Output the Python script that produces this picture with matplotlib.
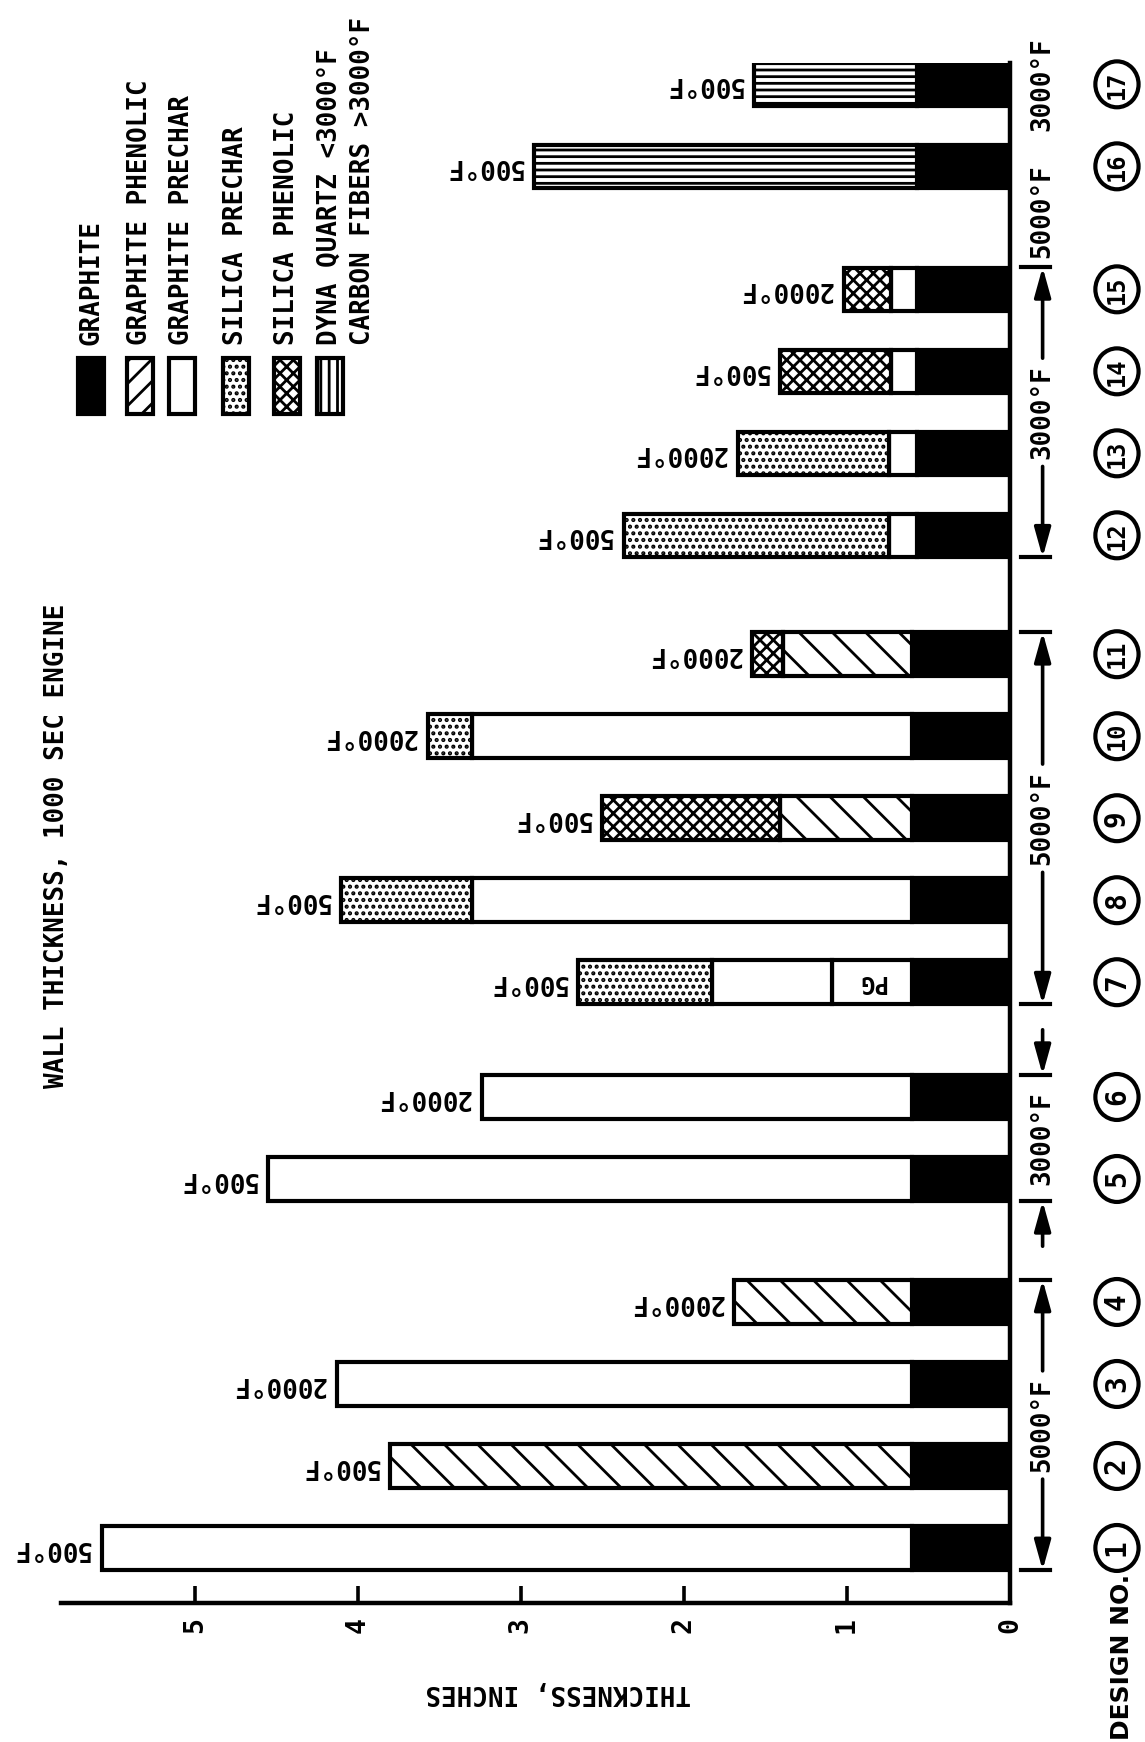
import matplotlib
matplotlib.use("Agg")
import matplotlib.pyplot as plt
from matplotlib.patches import Ellipse, Rectangle
import numpy as np

plt.rcParams['font.family'] = 'DejaVu Sans Mono'
plt.rcParams['font.weight'] = 'bold'
plt.rcParams['hatch.linewidth'] = 1.0

# ---- data (thickness of each layer, inches, from the inside out) ----
designs = list(range(1, 18))
graphite = [0.60, 0.60, 0.60, 0.60, 0.60, 0.60, 0.60, 0.60, 0.60, 0.60, 0.60,
            0.57, 0.57, 0.57, 0.57, 0.57, 0.57]
pg_layer = [0, 0, 0, 0, 0, 0, 0.49, 0, 0, 0, 0, 0, 0, 0, 0, 0, 0]
graphite_phenolic = [0, 3.20, 0, 1.09, 0, 0, 0, 0, 0.81, 0, 0.79, 0, 0, 0, 0, 0, 0]
graphite_prechar = [4.97, 0, 3.53, 0, 3.95, 2.64, 0.74, 2.70, 0, 2.70, 0,
                    0.17, 0.17, 0.16, 0.16, 0, 0]
silica_phenolic = [0, 0, 0, 0, 0, 0, 0, 0, 1.09, 0, 0.19, 0, 0, 0.68, 0.29, 0, 0]
silica_prechar = [0, 0, 0, 0, 0, 0, 0.82, 0.80, 0, 0.27, 0, 1.63, 0.93, 0, 0, 0, 0]
dyna_quartz = [0, 0, 0, 0, 0, 0, 0, 0, 0, 0, 0, 0, 0, 0, 0, 2.35, 1.00]
backface = ['500°F', '500°F', '2000°F', '2000°F', '500°F', '2000°F', '500°F',
            '500°F', '500°F', '2000°F', '2000°F', '500°F', '2000°F', '500°F',
            '2000°F', '500°F', '500°F']

group_labels = ['5000°F', '3000°F', '5000°F', '3000°F', '5000°F', '3000°F']
group_first = [1, 5, 7, 12, 16, 17]
group_last = [4, 6, 11, 15, 16, 17]

legend_labels = ['GRAPHITE', 'GRAPHITE PHENOLIC', 'GRAPHITE PRECHAR',
                 'SILICA PRECHAR', 'SILICA PHENOLIC', 'DYNA QUARTZ <3000°F']

# ---- layout ----
W, H = 1145, 1742
fig = plt.figure(figsize=(W / 200, H / 200), dpi=200)

def fx(x):
    return x / W

def fy(y):
    return 1 - y / H

ax_top, ax_bot, ax_l, ax_r = 62.6, 1603, 61, 1010
ax = fig.add_axes([fx(ax_l), fy(ax_bot), (ax_r - ax_l) / W, (ax_bot - ax_top) / H])

gap_before = [0, 0.5, 0.4, 0.45, 0.5, 0.0]
pos = {}
shift = 0
for g, (a, b) in enumerate(zip(group_first, group_last)):
    shift += gap_before[g]
    for d in range(a, b + 1):
        pos[d] = d - 1 + shift
y = np.array([pos[d] for d in designs])

bh = 0.53
layers = [
    (graphite, 'black', None),
    (pg_layer, 'white', None),
    (graphite_phenolic, 'white', '\\\\'),
    (graphite_prechar, 'white', None),
    (silica_phenolic, 'white', 'xxxxx'),
    (silica_prechar, 'white', '.....'),
    (dyna_quartz, 'white', '-----'),
]
left = np.zeros(len(designs))
for vals, fc, hatch in layers:
    v = np.array(vals, dtype=float)
    m = v > 0
    ax.barh(y[m], v[m], left=left[m], height=bh, color=fc, edgecolor='black',
            hatch=hatch, linewidth=1.5)
    left = left + v
totals = left

for yy, tot, lab in zip(y, totals, backface):
    ax.annotate(lab, (tot, yy), xytext=(-4, 0), textcoords='offset points',
                rotation=180, ha='right', va='center', fontsize=9.3)

# PG label in design 7
i7 = designs.index(7)
ax.text(graphite[i7] + pg_layer[i7] / 2, y[i7], 'PG', rotation=180,
        ha='center', va='center', fontsize=8.5)

ax.set_xlim(5.82, 0)
ax.set_ylim(-0.671, 18.115)
ax.spines['top'].set_visible(False)
ax.spines['left'].set_visible(False)
ax.spines['bottom'].set_linewidth(1.6)
ax.spines['right'].set_linewidth(1.6)
ax.set_yticks([])
ax.set_xticks([0, 1, 2, 3, 4, 5])
ax.set_xticklabels(['0', '1', '2', '3', '4', '5'])
ax.tick_params(axis='x', direction='in', length=6, width=1.3, pad=5,
               labelrotation=90, labelsize=9.5)

# temperature groups
xb, t1, t2 = -0.2, -0.07, -0.245
aprops = dict(arrowstyle='-|>,head_length=0.9,head_width=0.25', lw=1.3,
              color='black', shrinkA=0, shrinkB=0, mutation_scale=10)
for lab, a, b in zip(group_labels, group_first, group_last):
    lo, hi = pos[a] - 0.27, pos[b] + 0.27
    c = (pos[a] + pos[b]) / 2
    if a == b:
        if a == 16:
            c = pos[a] - 0.55
        ax.text(xb, c, lab, rotation=90, ha='center', va='center',
                fontsize=9.3, clip_on=False)
        continue
    ax.text(xb, c, lab, rotation=90, ha='center', va='center', fontsize=9.3,
            clip_on=False)
    for yy in (lo, hi):
        ax.plot([t1, t2], [yy, yy], color='black', lw=1.5, clip_on=False)
    if b - a >= 2:
        g = 0.66
        ax.annotate('', xy=(xb, lo), xytext=(xb, c - g), arrowprops=aprops,
                    annotation_clip=False)
        ax.annotate('', xy=(xb, hi), xytext=(xb, c + g), arrowprops=aprops,
                    annotation_clip=False)
    else:
        ax.annotate('', xy=(xb, lo), xytext=(xb, lo - 0.55), arrowprops=aprops,
                    annotation_clip=False)
        ax.annotate('', xy=(xb, hi), xytext=(xb, hi + 0.55), arrowprops=aprops,
                    annotation_clip=False)

# circled design numbers
xc = -0.656
for d in designs:
    ax.add_patch(Ellipse((xc, pos[d]), 0.265, 0.56, fill=False, lw=1.5,
                         clip_on=False))
    ax.text(xc, pos[d], str(d), rotation=90, ha='center', va='center',
            fontsize=10 if d < 10 else 8.5, clip_on=False)

fig.text(fx(1122), fy(1740), 'DESIGN NO.', rotation=90, ha='center',
         va='bottom', fontsize=9, family='DejaVu Sans', fontweight='bold')

# titles
fig.text(fx(57), fy(846), 'WALL THICKNESS, 1000 SEC ENGINE', rotation=90,
         ha='center', va='center', fontsize=9.3)
fig.text(fx(558), fy(1692), 'THICKNESS, INCHES', rotation=180,
         ha='center', va='center', fontsize=9.3)

# legend
leg_x = [91, 140, 182, 236, 287, 330]
leg_fc = ['black', 'white', 'white', 'white', 'white', 'white']
leg_hatch = [None, '///', None, '.....', 'xxxxx', '||||']
for lx, lab, fc, hatch in zip(leg_x, legend_labels, leg_fc, leg_hatch):
    fig.patches.append(Rectangle((fx(lx - 13), fy(414)), 26 / W, 56 / H,
                                 transform=fig.transFigure, facecolor=fc,
                                 edgecolor='black', hatch=hatch, lw=1.5))
    fig.text(fx(lx), fy(345), lab, rotation=90, ha='center', va='bottom',
             fontsize=9.3)
fig.text(fx(363), fy(345), 'CARBON FIBERS >3000°F', rotation=90, ha='center',
         va='bottom', fontsize=9.3)

fig.savefig('out.png', dpi=200)
